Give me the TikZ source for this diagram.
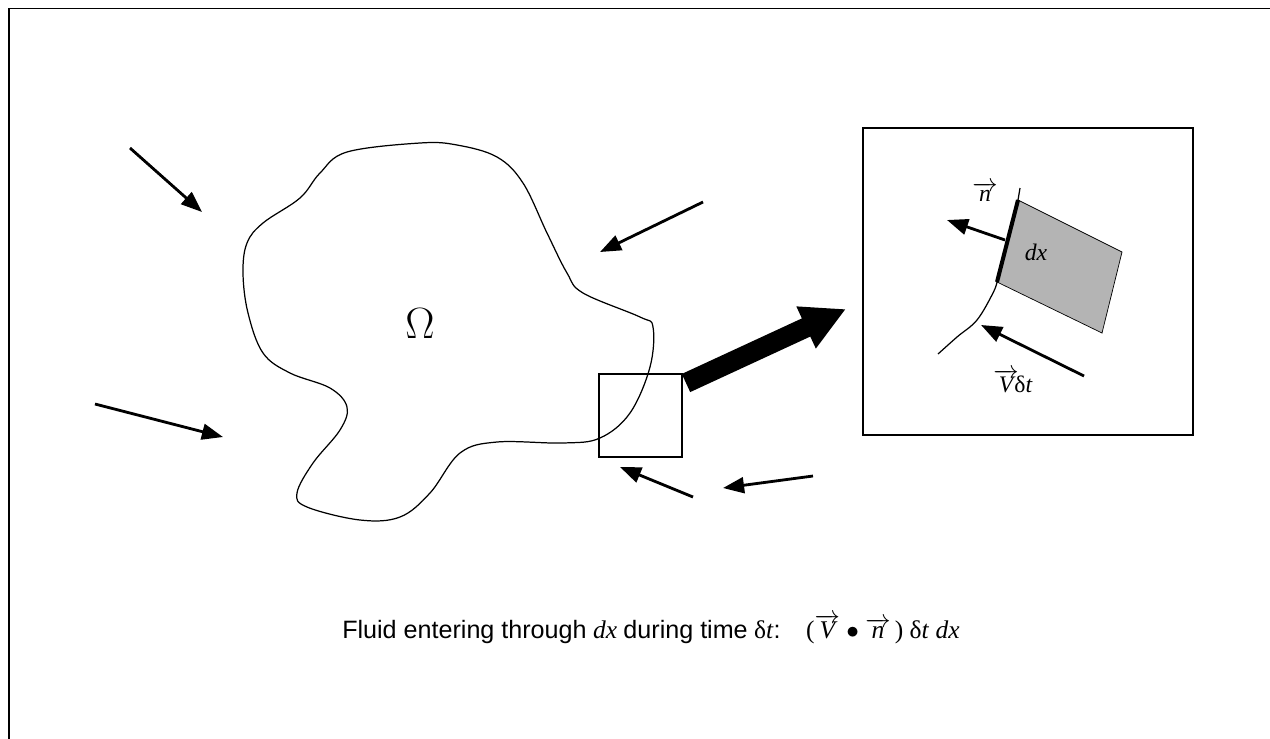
\documentclass[tikz,border=0pt]{standalone}
\usepackage{fontspec}
\setmainfont{Liberation Serif}
\newfontfamily\capfont{Liberation Sans}
\usetikzlibrary{positioning, arrows.meta, calc}
\definecolor{shadeGray}{HTML}{B4B4B4}
\newcommand{\vecarrow}[1]{$\overrightarrow{\hbox{\itshape #1}}$}
\newcommand{\captext}[1]{{\capfont\fontsize{14.3}{17}\selectfont #1}}

\begin{document}
\begin{tikzpicture}[x=0.02cm, y=-0.02cm,
  flow/.style={line width=1.6pt, -{Triangle[length=12pt, width=9pt]}},
  outline/.style={line width=0.7pt},
  box/.style={draw, line width=0.8pt, inner sep=0pt},
  lbl/.style={font=\fontsize{13.5}{15}\selectfont, inner sep=0pt}
]
\useasboundingbox (0,0) rectangle (1270,738);
\draw[line width=1.1pt] (9,745) -- (9,8.5) -- (1275,8.5);

% the domain
\draw[outline] plot[smooth cycle, tension=0.6] coordinates {
  (420,143) (457,145) (497,157) (523,183) (547,233) (567,273) (583,293)
  (640,317) (653,327) (650,367) (630,413) (600,438) (563,443) (497,442)
  (460,453) (430,493) (400,517) (360,520) (307,507) (297,493) (313,463)
  (340,430) (347,407) (330,388) (290,373) (263,353) (248,313) (243,273)
  (247,243) (263,223) (300,198) (320,173) (347,152)};
\node[font=\fontsize{24}{26}\selectfont] (omega) at (420,324) {$\Omega$};

% incoming flow
\coordinate (f1s) at (130,148); \coordinate (f1e) at (202,212);
\coordinate (f2s) at (95,404);  \coordinate (f2e) at (223,437);
\coordinate (f3s) at (703,202); \coordinate (f3e) at (600,252);
\coordinate (f4s) at (693,497); \coordinate (f4e) at (620,467);
\coordinate (f5s) at (813,476); \coordinate (f5e) at (723,488);
\foreach \i in {1,...,5}
  \draw[flow] (f\i s) -- (f\i e);

% zoom on the boundary
\node[box, minimum size=1.66cm] (zoom) at (640.5,415.5) {};
\node[box, minimum width=6.6cm, minimum height=6.14cm] (inset) at (1028,281.5) {};
\coordinate (bigS) at (686,383);
\coordinate (bigE) at (846,309);
\draw[line width=0.4cm, -{Triangle[length=0.88cm, width=0.86cm]}] (bigS) -- (bigE);

% inside the inset
\draw[fill=shadeGray, line width=0.4pt] (1018,200) -- (1122,252) -- (1102,333) -- (997,282) -- cycle;
\draw[outline] (1020,188) -- (1018,200);
\draw[outline] plot[smooth, tension=0.6] coordinates {(997,282) (993,293) (977,320) (957,337) (938,354)};
\draw[line width=2.3pt] (1018,200) -- (997,282);
\coordinate (nS) at (1005,240); \coordinate (nE) at (947,220);
\draw[flow] (nS) -- (nE);
\coordinate (vS) at (1084,376); \coordinate (vE) at (981,325);
\draw[flow] (vS) -- (vE);
\node[lbl] (nlbl) at (985,192) {\vecarrow{n}};
\node[lbl] (dxlbl) at (1036,252) {\itshape dx};
\node[lbl] (vlbl) at (1013,381) {\vecarrow{V}\kern-2.5pt δ\textit{t}};

% caption
\node[anchor=base, inner sep=0pt, font=\fontsize{14.5}{17}\selectfont] (caption) at (651,638)
  {\captext{Fluid entering through} \textit{dx} \captext{during time} δ\textit{t}\captext{:}\quad
   (\vecarrow{V} $\bullet$ \vecarrow{n}\,) δ\textit{t} \textit{dx}};
\end{tikzpicture}
\end{document}
